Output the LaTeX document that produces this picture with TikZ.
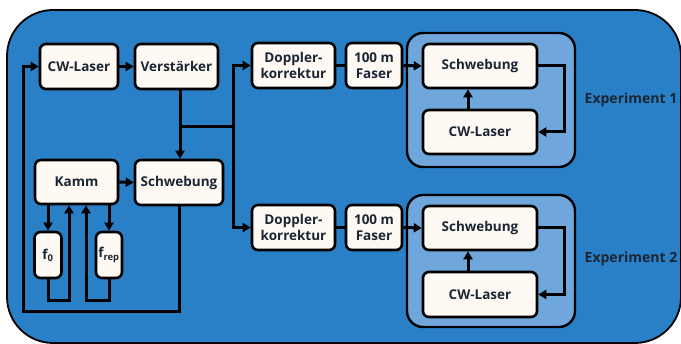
\documentclass[tikz,border=0pt]{standalone}
\usepackage{fontspec}
\setmainfont{Open Sans}
\usetikzlibrary{arrows.meta}
\definecolor{bgblue}{HTML}{2A80C6}
\definecolor{expblue}{HTML}{6FA7DC}
\definecolor{nodefill}{HTML}{FFF9F4}
\definecolor{txt}{HTML}{1A2633}
\tikzset{
  blk/.style={draw=black, line width=2.6pt, fill=nodefill, rounded corners=6pt,
    inner sep=0pt, align=center, text=txt,
    font=\fontsize{13.5}{15.5}\selectfont\bfseries},
  expbox/.style={draw=black, line width=2.4pt, fill=expblue, rounded corners=16pt},
  conn/.style={draw=black, line width=3pt, line join=miter},
  arr/.style={conn, -{Triangle[length=8pt,width=9pt]}},
  lbl/.style={text=txt, font=\fontsize{14}{16}\selectfont\bfseries}
}
\begin{document}
\begin{tikzpicture}[x=1pt,y=-1pt]
\useasboundingbox (0,0) rectangle (681,344);
% background
\draw[draw=black, line width=1.8pt, fill=bgblue, rounded corners=46pt] (7,10) rectangle (681,343);
% experiment boxes
\draw[expbox] (407,33) rectangle (575,167);
\draw[expbox] (407,195) rectangle (575,327);
% nodes
\node[blk, minimum width=78pt, minimum height=45pt] (cwl) at (79,66.5) {CW-Laser};
\node[blk, minimum width=83pt, minimum height=45pt] (verst) at (176.5,66.5) {Verstärker};
\node[blk, minimum width=83pt, minimum height=44pt] (kamm) at (76.5,182) {Kamm};
\node[blk, minimum width=88pt, minimum height=45pt] (schw) at (179,182.5) {Schwebung};
\node[blk, minimum width=27pt, minimum height=46pt] (f0) at (48,255) {f\textsubscript{0}};
\node[blk, minimum width=26pt, minimum height=46pt] (frep) at (109,255) {f\textsubscript{rep}};
\node[blk, minimum width=83pt, minimum height=45pt] (dop1) at (293.5,65.5) {Doppler-\\korrektur};
\node[blk, minimum width=56pt, minimum height=45pt] (fas1) at (374,65.5) {100 m\\Faser};
\node[blk, minimum width=114pt, minimum height=44pt] (sw1) at (480,66) {Schwebung};
\node[blk, minimum width=114pt, minimum height=44pt] (cw1) at (480,132) {CW-Laser};
\node[blk, minimum width=83pt, minimum height=45pt] (dop2) at (293.5,227.5) {Doppler-\\korrektur};
\node[blk, minimum width=56pt, minimum height=45pt] (fas2) at (374,227.5) {100 m\\Faser};
\node[blk, minimum width=114pt, minimum height=44pt] (sw2) at (480,228) {Schwebung};
\node[blk, minimum width=114pt, minimum height=45pt] (cw2) at (480,294.5) {CW-Laser};
\node[lbl] (e1) at (631,100) {Experiment 1};
\node[lbl] (e2) at (631,259) {Experiment 2};
% coordinates
\coordinate (jv) at (180,127);
\coordinate (jh) at (233,127);
\coordinate (bl) at (23,312);
% connectors
\draw[arr] (schw.south) |- (bl) |- (cwl.west);
\draw[arr] (cwl.east) -- (verst.west);
\draw[arr] (verst.south -| jv) -- (schw.north -| jv);
\draw[conn] (jv) -- (jh);
\draw[arr] (jh) |- (dop1.west);
\draw[arr] (jh) |- (dop2.west);
\draw[conn] (dop1.east) -- (fas1.west);
\draw[conn] (dop2.east) -- (fas2.west);
\draw[arr] (fas1.east) -- (sw1.west);
\draw[arr] (fas2.east) -- (sw2.west);
\draw[arr] (sw1.east) -- ++(26,0) |- (cw1.east);
\draw[arr] (sw2.east) -- ++(26,0) |- (cw2.east);
\draw[arr] ([xshift=-12pt]cw1.north) -- ([xshift=-12pt]sw1.south);
\draw[arr] ([xshift=-12pt]cw2.north) -- ([xshift=-12pt]sw2.south);
\draw[arr] (kamm.east) -- (schw.west);
\draw[arr] (kamm.south -| f0) -- (f0.north);
\draw[arr] (kamm.south -| frep) -- (frep.north);
\draw[arr] (f0.south) -- ++(0,21) -| ([xshift=-7.5pt]kamm.south);
\draw[arr] (frep.south) -- ++(0,21) -| ([xshift=9.5pt]kamm.south);
\end{tikzpicture}
\end{document}
